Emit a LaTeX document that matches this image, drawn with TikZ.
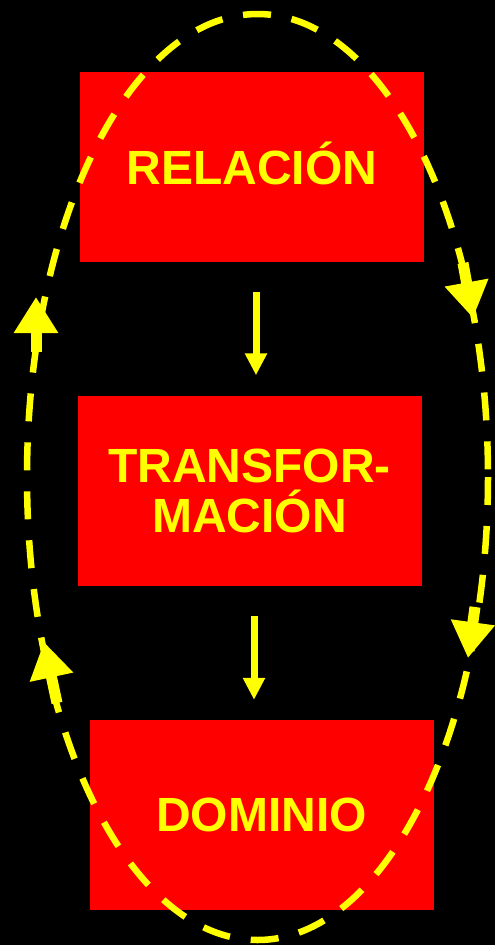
\documentclass[tikz,border=0pt]{standalone}
\usepackage{fontspec}
\setmainfont{Liberation Sans}
\usepackage{xcolor}
\usetikzlibrary{arrows.meta, positioning}

\definecolor{boxred}{RGB}{255,0,0}
\definecolor{labelyellow}{RGB}{255,255,0}

\begin{document}
\begin{tikzpicture}[
    x=1pt, y=-1pt,
    every node/.style={font=\fontsize{48}{50}\selectfont\bfseries, text=labelyellow},
    box/.style={rectangle, fill=boxred, align=center, inner sep=0pt,
                minimum width=344pt, minimum height=190pt},
    arrow/.style={draw=labelyellow, line width=7pt, -{Triangle[width=21pt,length=22pt]},
                  shorten <=30pt, shorten >=20pt},
    loopline/.style={draw=labelyellow, line width=6.5pt, dash pattern=on 28pt off 21pt},
    bigarrow/.style={draw=labelyellow, fill=labelyellow, line width=11pt,
                     -{Triangle[width=42pt,length=36pt]}}
  ]

  \fill[black] (0,0) rectangle (495,945);
  \useasboundingbox (0,0) rectangle (495,945);

  \node[box, text height=34pt, text depth=0pt] (rel) at (252,167) {RELACIÓN};
  \node[box] (trans) at (249.5,490.5) {TRANSFOR-\\MACIÓN};
  \node[box] (dom) at (261.5,815) {DOMINIO};

  \draw[arrow] ([xshift=4pt]rel.south) -- ([xshift=4pt]rel.south |- trans.north);
  \draw[arrow] ([xshift=4.5pt]trans.south) -- ([xshift=4.5pt]trans.south |- dom.north);

  % dashed loop round the boxes
  \draw[loopline] (257.5,477) ellipse [x radius=230.5, y radius=463];

  \coordinate (ru0) at (463,263);
  \coordinate (ru1) at (473,318);
  \coordinate (rl0) at (475,607);
  \coordinate (rl1) at (468,658);
  \coordinate (lu0) at (36,352);
  \coordinate (lu1) at (36,297);
  \coordinate (ll0) at (57,703);
  \coordinate (ll1) at (44,642);

  \draw[bigarrow] (ru0) -- (ru1);
  \draw[bigarrow] (rl0) -- (rl1);
  \draw[bigarrow] (lu0) -- (lu1);
  \draw[bigarrow] (ll0) -- (ll1);

\end{tikzpicture}
\end{document}
